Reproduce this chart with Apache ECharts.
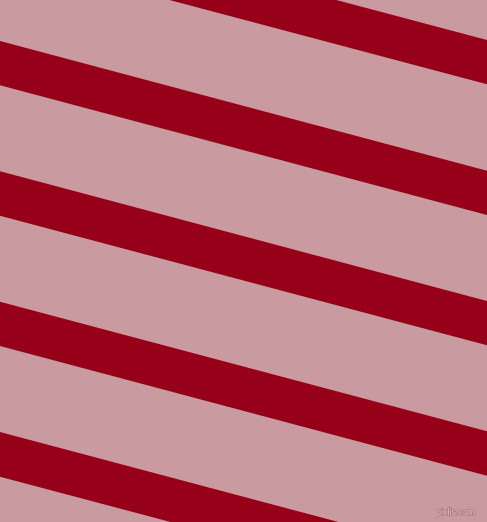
<!DOCTYPE html>
<html>
<head>
<meta charset="utf-8">
<script src="https://cdn.jsdelivr.net/npm/echarts@6/dist/echarts.min.js"></script>
<style>
    html, body {margin: 0; padding: 0; background: #C99AA0;}
    #main {width: 487px; height: 522px;}
</style>
</head>
<body>
<div id="main"></div>
<script>
// stripe edges, in pixels from the top
// left edge (x = 0) and right edge (x = 487)
const stripeTopLeft = [-89.3, 41, 171.3, 301.7, 432];
const stripeBottomLeft = [-45, 85.3, 215.7, 346, 476.7];
const stripeTopRight = [40, 170.7, 301, 431.3, 561.5];
const stripeBottomRight = [84.3, 215, 345.3, 475.7, 606];

const WIDTH = 487;
const HEIGHT = 522;

let stripes = stripeTopLeft.map((v, i) => [v, stripeBottomLeft[i], stripeTopRight[i], stripeBottomRight[i]]);

const chart = echarts.init(document.getElementById('main'), null, {renderer: 'canvas'});

let option = {
    backgroundColor: '#C99AA0',
    animation: false,
    grid: {left: 0, right: 0, top: 0, bottom: 0},
    xAxis: {type: 'value', min: 0, max: WIDTH, show: false},
    yAxis: {type: 'value', min: 0, max: HEIGHT, inverse: true, show: false},
    series: [
        {
            type: 'custom',
            clip: true,
            data: stripes,
            renderItem: (params, api) => {
                let pts = [
                    api.coord([0, api.value(0)]),
                    api.coord([WIDTH, api.value(2)]),
                    api.coord([WIDTH, api.value(3)]),
                    api.coord([0, api.value(1)]),
                ];
                return {
                    type: 'polygon',
                    shape: {points: pts},
                    style: {fill: '#960018'}
                };
            }
        }
    ],
    // small watermark in the bottom right corner
    graphic: [
        {
            type: 'text',
            right: 11,
            bottom: 4,
            style: {
                text: 'pixlis.com',
                font: '9px "Liberation Sans"',
                fill: '#E6BEC4',
                stroke: '#A5707A',
                lineWidth: 1.2
            }
        }
    ]
};
chart.setOption(option);
</script>
</body>
</html>
